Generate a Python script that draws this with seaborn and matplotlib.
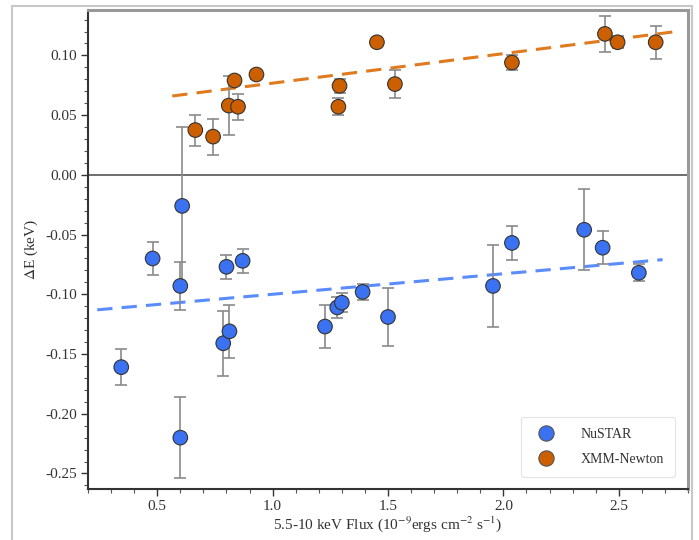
import matplotlib
matplotlib.use("Agg")
import matplotlib.pyplot as plt
import seaborn as sns
import pandas as pd
from matplotlib.patches import Rectangle
from matplotlib.lines import Line2D
from matplotlib.ticker import AutoMinorLocator, FormatStrFormatter

# ---- data ----
nu_flux = [0.344, 0.48, 0.60, 0.608, 0.60, 0.786, 0.80, 0.813, 0.87, 1.227, 1.28, 1.30,
           1.39, 1.50, 1.955, 2.037, 2.35, 2.43, 2.587]
nu_dE = [-0.161, -0.070, -0.093, -0.026, -0.220, -0.141, -0.077, -0.131, -0.072, -0.127,
         -0.111, -0.107, -0.098, -0.119, -0.093, -0.057, -0.046, -0.061, -0.082]
nu_err = [0.015, 0.014, 0.020, 0.066, 0.034, 0.027, 0.010, 0.022, 0.010, 0.018,
          0.009, 0.008, 0.007, 0.024, 0.034, 0.014, 0.034, 0.014, 0.007]

xmm_flux = [0.665, 0.742, 0.81, 0.835, 0.85, 0.93, 1.285, 1.29, 1.452, 1.53, 2.037,
            2.44, 2.495, 2.66]
xmm_dE = [0.0375, 0.032, 0.058, 0.079, 0.057, 0.084, 0.057, 0.0745, 0.111, 0.076, 0.094,
          0.118, 0.111, 0.111]
xmm_err = [0.013, 0.015, 0.025, 0.004, 0.011, 0.004, 0.007, 0.006, 0.002, 0.012, 0.006,
           0.015, 0.005, 0.014]

nu_fit_x = [0.24, 2.69]
nu_fit_y = [-0.113, -0.071]
xmm_fit_x = [0.565, 2.75]
xmm_fit_y = [0.066, 0.120]

labels = ["NuSTAR", "XMM-Newton"]
blue = "#3b72f2"
orange = "#cc5f00"

df = pd.DataFrame({
    "flux": nu_flux + xmm_flux,
    "dE": nu_dE + xmm_dE,
    "err": nu_err + xmm_err,
    "inst": [labels[0]] * len(nu_flux) + [labels[1]] * len(xmm_flux),
})

sns.set_style("ticks")
plt.rcParams["font.family"] = ["Liberation Serif", "DejaVu Serif"]
plt.rcParams["mathtext.fontset"] = "stix"

fig = plt.figure(figsize=(6.99, 5.40), dpi=100)
ax = fig.add_axes([88 / 699, 1 - 489 / 540, 600 / 699, 479 / 540])

# outer figure border
fig.patches.append(Rectangle((12 / 699, -0.05), 680 / 699, 1 - 6 / 540 + 0.05,
                             transform=fig.transFigure, fill=False,
                             edgecolor="#c8c8c8", lw=1.5, zorder=0))

ax.axhline(0, color="#555555", lw=1.2, zorder=1)

ax.plot(nu_fit_x, nu_fit_y, ls=(0, (5, 3)), color="#5a8cff", lw=2.2, zorder=2)
ax.plot(xmm_fit_x, xmm_fit_y, ls=(0, (5, 3)), color="#e07a1f", lw=2.2, zorder=2)

for inst in labels:
    sub = df[df["inst"] == inst]
    ax.errorbar(sub["flux"], sub["dE"], yerr=sub["err"], fmt="none",
                ecolor="#8a8a8a", elinewidth=1.2, capsize=4, capthick=1.2, zorder=3)

sns.scatterplot(data=df, x="flux", y="dE", hue="inst", palette=[blue, orange],
                s=110, edgecolor="#333333", linewidth=0.8, ax=ax, zorder=4, legend=False)

leg_handles = [Line2D([], [], marker="o", ls="none", markersize=11,
                      markerfacecolor=c, markeredgecolor="#555555", markeredgewidth=0.8)
               for c in [blue, orange]]
leg = ax.legend(leg_handles, labels, loc="lower right", frameon=True, fontsize=10,
                borderpad=0.8, handletextpad=1.5, labelspacing=0.9,
                bbox_to_anchor=(0.99, 0.01))
leg.get_frame().set_edgecolor("#dddddd")
leg.get_frame().set_linewidth(0.8)
for t in leg.get_texts():
    t.set_color("#333333")

ax.set_xlim(0.2, 2.8)
ax.set_ylim(-0.263, 0.138)
ax.set_xticks([0.5, 1.0, 1.5, 2.0, 2.5])
ax.set_yticks([-0.25, -0.20, -0.15, -0.10, -0.05, 0.00, 0.05, 0.10])
ax.yaxis.set_major_formatter(FormatStrFormatter("%.2f"))
ax.xaxis.set_minor_locator(AutoMinorLocator(5))
ax.yaxis.set_minor_locator(AutoMinorLocator(5))
ax.tick_params(axis="both", which="major", length=5, width=1, direction="out",
               labelsize=11, colors="#333333", pad=3)
ax.tick_params(axis="both", which="minor", length=3, width=0.8, direction="out",
               colors="#555555")

ax.set_xlabel(r"5.5-10 keV Flux (10$^{-9}$ergs cm$^{-2}$ s$^{-1}$)", fontsize=11,
              color="#333333", labelpad=1)
ax.set_ylabel(r"$\Delta$E (keV)", fontsize=11, color="#333333", labelpad=4)

for side in ["left", "bottom"]:
    ax.spines[side].set_color("#333333")
    ax.spines[side].set_linewidth(1.5)
for side in ["top", "right"]:
    ax.spines[side].set_visible(True)
    ax.spines[side].set_color("#999999")
    ax.spines[side].set_linewidth(2.2)

fig.savefig("out.png", dpi=100)
